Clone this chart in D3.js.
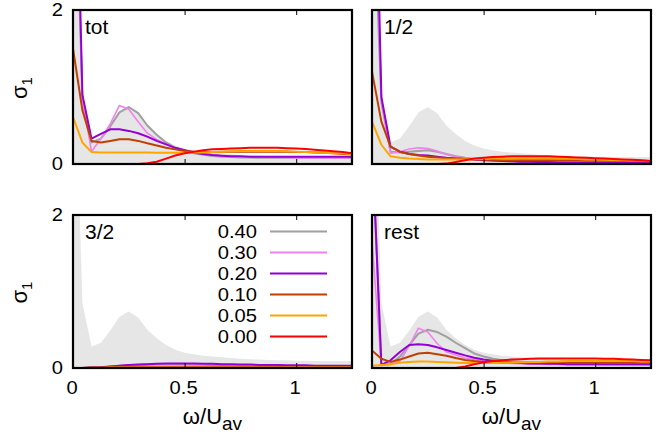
<!DOCTYPE html>
<html lang="en">
<head>
<meta charset="utf-8" />
<title>sigma_1 by channel</title>
<style>
    body { margin: 0; background: #fff; }
    svg text { font-family: "Liberation Sans", Arial, sans-serif; fill: #000; }
</style>
</head>
<body>
<script src="https://d3js.org/d3.v7.min.js"></script>
<script>
    // frequency grid (omega / U_av)
    var omega = [0, 0.042, 0.083, 0.125, 0.167, 0.208, 0.25, 0.292, 0.333, 0.375, 0.417, 0.458, 0.5, 0.542, 0.583,
        0.625, 0.667, 0.708, 0.75, 0.792, 0.833, 0.875, 0.917, 0.958, 1.0, 1.042, 1.083, 1.125, 1.167, 1.208, 1.25];

    var uLabels = ["0.40", "0.30", "0.20", "0.10", "0.05", "0.00"];
    var uColors = ["#a0a0a0", "#ee82ee", "#9400d3", "#c04000", "#ffa500", "#ff0000"];
    var panelNames = ["tot", "1/2", "3/2", "rest"];
    var xTicks = [0, 0.5, 1];
    var yTicks = [0, 2];

    // grey background curve, same in every panel
    var shade = [5.0, 0.85, 0.28, 0.33, 0.49, 0.67, 0.74, 0.66, 0.50, 0.39, 0.30, 0.24, 0.20, 0.18, 0.16, 0.15,
        0.14, 0.13, 0.12, 0.115, 0.11, 0.105, 0.10, 0.10, 0.095, 0.095, 0.09, 0.09, 0.09, 0.09, 0.09];

    // tot
    var tot040 = [5.0, 0.85, 0.28, 0.33, 0.49, 0.67, 0.74, 0.66, 0.50, 0.38, 0.28, 0.21, 0.17, 0.14, 0.12, 0.105,
        0.095, 0.09, 0.085, 0.085, 0.08, 0.08, 0.08, 0.08, 0.08, 0.08, 0.08, 0.08, 0.08, 0.08, 0.08];
    var tot030 = [5.5, 0.85, 0.16, 0.33, 0.52, 0.76, 0.71, 0.55, 0.40, 0.32, 0.26, 0.21, 0.18, 0.15, 0.13, 0.115,
        0.105, 0.10, 0.095, 0.09, 0.09, 0.085, 0.085, 0.085, 0.08, 0.08, 0.08, 0.08, 0.08, 0.08, 0.08];
    var tot020 = [6.0, 0.90, 0.33, 0.39, 0.45, 0.45, 0.43, 0.40, 0.355, 0.30, 0.255, 0.21, 0.18, 0.15, 0.13, 0.117,
        0.108, 0.10, 0.10, 0.095, 0.095, 0.095, 0.095, 0.095, 0.095, 0.095, 0.095, 0.095, 0.095, 0.095, 0.095];
    var tot010 = [1.50, 0.70, 0.30, 0.28, 0.30, 0.32, 0.32, 0.30, 0.27, 0.24, 0.21, 0.19, 0.17, 0.16, 0.155, 0.155,
        0.16, 0.16, 0.16, 0.16, 0.16, 0.16, 0.16, 0.16, 0.155, 0.155, 0.15, 0.145, 0.14, 0.13, 0.125];
    var tot005 = [0.61, 0.28, 0.155, 0.15, 0.15, 0.15, 0.15, 0.15, 0.15, 0.145, 0.145, 0.145, 0.145, 0.15, 0.15, 0.155,
        0.16, 0.165, 0.17, 0.17, 0.17, 0.17, 0.17, 0.165, 0.16, 0.155, 0.15, 0.145, 0.14, 0.135, 0.13];
    var tot000 = [0, 0, 0, 0, 0, 0, 0, 0, 0.01, 0.03, 0.07, 0.11, 0.14, 0.16, 0.18, 0.19,
        0.195, 0.20, 0.205, 0.21, 0.21, 0.21, 0.21, 0.205, 0.20, 0.195, 0.185, 0.175, 0.165, 0.155, 0.14];

    // 1/2
    var half040 = [4.0, 0.80, 0.16, 0.15, 0.16, 0.17, 0.18, 0.16, 0.13, 0.10, 0.08, 0.065, 0.055, 0.045, 0.04, 0.035,
        0.03, 0.03, 0.03, 0.025, 0.025, 0.02, 0.02, 0.02, 0.02, 0.02, 0.02, 0.02, 0.02, 0.02, 0.02];
    var half030 = [5.0, 0.85, 0.14, 0.16, 0.195, 0.21, 0.20, 0.17, 0.125, 0.095, 0.08, 0.065, 0.055, 0.045, 0.04, 0.035,
        0.03, 0.03, 0.025, 0.025, 0.02, 0.02, 0.02, 0.02, 0.02, 0.02, 0.02, 0.02, 0.02, 0.02, 0.02];
    var half020 = [6.0, 0.87, 0.225, 0.16, 0.13, 0.117, 0.11, 0.095, 0.08, 0.07, 0.065, 0.06, 0.05, 0.045, 0.04, 0.035,
        0.03, 0.03, 0.025, 0.025, 0.02, 0.02, 0.02, 0.02, 0.02, 0.02, 0.015, 0.015, 0.015, 0.015, 0.015];
    var half010 = [1.2, 0.55, 0.225, 0.16, 0.13, 0.11, 0.095, 0.085, 0.075, 0.07, 0.065, 0.06, 0.055, 0.055, 0.05, 0.05,
        0.05, 0.05, 0.05, 0.05, 0.05, 0.05, 0.05, 0.045, 0.045, 0.045, 0.04, 0.04, 0.04, 0.035, 0.035];
    var half005 = [0.55, 0.25, 0.10, 0.08, 0.07, 0.065, 0.06, 0.06, 0.06, 0.06, 0.06, 0.065, 0.065, 0.07, 0.07, 0.07,
        0.075, 0.075, 0.075, 0.075, 0.07, 0.07, 0.065, 0.06, 0.06, 0.055, 0.05, 0.05, 0.045, 0.045, 0.04];
    var half000 = [0, 0, 0, 0, 0, 0, 0, 0, 0.005, 0.025, 0.05, 0.07, 0.08, 0.09, 0.095, 0.10,
        0.10, 0.10, 0.10, 0.10, 0.095, 0.09, 0.085, 0.08, 0.075, 0.07, 0.065, 0.06, 0.055, 0.05, 0.04];

    // 3/2
    var three040 = [0, 0, 0.005, 0.01, 0.02, 0.03, 0.035, 0.04, 0.045, 0.05, 0.05, 0.05, 0.05, 0.045, 0.045, 0.04,
        0.04, 0.035, 0.035, 0.03, 0.03, 0.03, 0.03, 0.025, 0.025, 0.025, 0.025, 0.02, 0.02, 0.02, 0.02];
    var three030 = [0, 0, 0.005, 0.01, 0.02, 0.03, 0.04, 0.045, 0.05, 0.055, 0.055, 0.055, 0.055, 0.05, 0.05, 0.045,
        0.045, 0.04, 0.04, 0.035, 0.035, 0.035, 0.03, 0.03, 0.03, 0.03, 0.025, 0.025, 0.025, 0.025, 0.025];
    var three020 = [0, 0, 0.005, 0.01, 0.02, 0.03, 0.04, 0.045, 0.05, 0.055, 0.06, 0.06, 0.06, 0.06, 0.055, 0.055,
        0.05, 0.05, 0.045, 0.045, 0.04, 0.04, 0.04, 0.035, 0.035, 0.035, 0.03, 0.03, 0.03, 0.03, 0.03];
    var three010 = [0, 0, 0.005, 0.005, 0.01, 0.01, 0.015, 0.015, 0.015, 0.015, 0.015, 0.015, 0.015, 0.015, 0.015, 0.015,
        0.015, 0.015, 0.015, 0.015, 0.015, 0.015, 0.015, 0.01, 0.01, 0.01, 0.01, 0.01, 0.01, 0.01, 0.01];
    var three005 = [0, 0, 0, 0, 0.005, 0.005, 0.005, 0.005, 0.005, 0.005, 0.005, 0.005, 0.005, 0.005, 0.005, 0.005,
        0.005, 0.005, 0.005, 0.005, 0.005, 0.005, 0.005, 0.005, 0.005, 0.005, 0.005, 0.005, 0.005, 0.005, 0.005];
    var three000 = [0, 0, 0, 0, 0, 0, 0, 0, 0, 0, 0, 0, 0, 0, 0, 0,
        0, 0, 0, 0, 0, 0, 0, 0, 0, 0, 0, 0, 0, 0, 0];

    // rest
    var rest040 = [3.0, 0.04, 0.05, 0.15, 0.30, 0.45, 0.50, 0.47, 0.41, 0.33, 0.26, 0.19, 0.15, 0.12, 0.10, 0.09,
        0.08, 0.075, 0.07, 0.065, 0.06, 0.06, 0.06, 0.055, 0.055, 0.05, 0.05, 0.05, 0.05, 0.05, 0.05];
    var rest030 = [1.65, 0.03, 0.06, 0.09, 0.29, 0.52, 0.47, 0.32, 0.21, 0.17, 0.13, 0.11, 0.09, 0.08, 0.07, 0.06,
        0.055, 0.05, 0.05, 0.045, 0.045, 0.04, 0.04, 0.04, 0.04, 0.04, 0.04, 0.04, 0.04, 0.04, 0.04];
    var rest020 = [3.0, 0.04, 0.10, 0.21, 0.30, 0.31, 0.30, 0.27, 0.235, 0.20, 0.165, 0.135, 0.11, 0.095, 0.08, 0.07,
        0.065, 0.06, 0.06, 0.055, 0.055, 0.05, 0.05, 0.05, 0.05, 0.05, 0.05, 0.05, 0.05, 0.05, 0.05];
    var rest010 = [0.23, 0.12, 0.08, 0.11, 0.15, 0.19, 0.20, 0.18, 0.16, 0.13, 0.105, 0.09, 0.08, 0.075, 0.07, 0.07,
        0.07, 0.07, 0.075, 0.075, 0.08, 0.08, 0.08, 0.08, 0.08, 0.08, 0.08, 0.075, 0.075, 0.075, 0.075];
    var rest005 = [0.03, 0.04, 0.05, 0.07, 0.08, 0.085, 0.085, 0.08, 0.075, 0.07, 0.065, 0.065, 0.065, 0.065, 0.07, 0.07,
        0.075, 0.08, 0.08, 0.085, 0.085, 0.09, 0.09, 0.09, 0.09, 0.09, 0.09, 0.09, 0.09, 0.085, 0.085];
    var rest000 = [0, 0, 0, 0, 0, 0, 0, 0, 0, 0, 0.02, 0.05, 0.075, 0.09, 0.10, 0.11,
        0.115, 0.12, 0.125, 0.125, 0.125, 0.125, 0.125, 0.125, 0.125, 0.12, 0.12, 0.115, 0.11, 0.105, 0.10];

    var panelSeries = [
        [tot040, tot030, tot020, tot010, tot005, tot000],
        [half040, half030, half020, half010, half005, half000],
        [three040, three030, three020, three010, three005, three000],
        [rest040, rest030, rest020, rest010, rest005, rest000]
    ];

    // panel boxes in pixels
    var boxes = [
        { left: 73, right: 352, top: 10, bottom: 164 },
        { left: 372, right: 651, top: 10, bottom: 164 },
        { left: 73, right: 352, top: 215, bottom: 368 },
        { left: 372, right: 651, top: 215, bottom: 368 }
    ];

    var svg = d3.select("body").append("svg")
        .attr("width", 659)
        .attr("height", 438);

    var numStretch = "scale(1.12,1)";

    boxes.forEach(function (b, p) {
        var x = d3.scaleLinear().domain([0, 1.25]).range([b.left, b.right]);
        var y = d3.scaleLinear().domain([0, 2]).range([b.bottom, b.top]);

        svg.append("clipPath").attr("id", "clip" + p)
            .append("rect")
            .attr("x", b.left).attr("y", b.top)
            .attr("width", b.right - b.left).attr("height", b.bottom - b.top);

        var g = svg.append("g").attr("clip-path", "url(#clip" + p + ")");

        var area = d3.area()
            .x(function (d, i) { return x(omega[i]); })
            .y0(y(0))
            .y1(function (d) { return y(d); });

        g.append("path").datum(shade)
            .attr("d", area)
            .attr("fill", "#e6e6e6");

        var line = d3.line()
            .x(function (d, i) { return x(omega[i]); })
            .y(function (d) { return y(d); });

        panelSeries[p].forEach(function (s, j) {
            g.append("path").datum(s)
                .attr("d", line)
                .attr("fill", "none")
                .attr("stroke", uColors[j])
                .attr("stroke-width", j == 1 ? 1.6 : 2)
                .attr("stroke-linejoin", "round");
        });

        // inner tick marks top and bottom
        svg.append("g")
            .attr("transform", "translate(0," + b.bottom + ")")
            .call(d3.axisBottom(x).tickValues([0.5, 1]).tickSize(-5).tickFormat(""))
            .call(function (a) { a.select(".domain").remove(); a.selectAll("line").attr("stroke", "#000"); });
        svg.append("g")
            .attr("transform", "translate(0," + b.top + ")")
            .call(d3.axisTop(x).tickValues([0.5, 1]).tickSize(-5).tickFormat(""))
            .call(function (a) { a.select(".domain").remove(); a.selectAll("line").attr("stroke", "#000"); });

        // frame
        svg.append("rect")
            .attr("x", b.left).attr("y", b.top)
            .attr("width", b.right - b.left).attr("height", b.bottom - b.top)
            .attr("fill", "none")
            .attr("stroke", "#000")
            .attr("stroke-width", 2.2);

        // panel name
        svg.append("text")
            .attr("x", b.left + 12)
            .attr("y", b.top + 24)
            .style("font-size", "21px")
            .text(panelNames[p]);

        // y labels only on the left column
        if (p % 2 == 0) {
            var ya = svg.append("g")
                .attr("transform", "translate(" + b.left + ",0)")
                .call(d3.axisLeft(y).tickValues(yTicks).tickSize(0).tickPadding(9).tickFormat(d3.format("d")));
            ya.select(".domain").remove();
            ya.selectAll("text")
                .style("font-size", "18px")
                .style("font-family", "'Liberation Sans', Arial, sans-serif")
                .attr("transform", numStretch);

            svg.append("text")
                .attr("transform", "translate(27," + ((b.top + b.bottom) / 2 + 1) + ") rotate(-90)")
                .attr("text-anchor", "middle")
                .style("font-size", "22px")
                .call(function (t) {
                    t.append("tspan").text("σ");
                    t.append("tspan").attr("dy", 5).style("font-size", "15px").text("1");
                });
        }

        // x labels only on the bottom row
        if (p >= 2) {
            var xa = svg.append("g")
                .attr("transform", "translate(-1.5," + b.bottom + ")")
                .call(d3.axisBottom(x).tickValues(xTicks).tickSize(0).tickPadding(13).tickFormat(d3.format("")));
            xa.select(".domain").remove();
            xa.selectAll("text")
                .style("font-size", "18px")
                .style("font-family", "'Liberation Sans', Arial, sans-serif")
                .attr("transform", numStretch);

            svg.append("text")
                .attr("x", (b.left + b.right) / 2)
                .attr("y", 424)
                .attr("text-anchor", "middle")
                .style("font-size", "22px")
                .call(function (t) {
                    t.append("tspan").text("ω/U");
                    t.append("tspan").attr("dy", 6).style("font-size", "19px").text("av");
                });
        }

        // legend sits inside the 3/2 panel
        if (p == 2) {
            uLabels.forEach(function (lab, j) {
                var yy = 238 + 21 * j;
                svg.append("text")
                    .attr("transform", "translate(257," + yy + ") " + numStretch)
                    .attr("text-anchor", "end")
                    .style("font-size", "18px")
                    .text(lab);
                svg.append("line")
                    .attr("x1", 270).attr("x2", 327)
                    .attr("y1", yy - 6.5).attr("y2", yy - 6.5)
                    .attr("stroke", uColors[j])
                    .attr("stroke-width", 2);
            });
        }
    });
</script>
</body>
</html>
